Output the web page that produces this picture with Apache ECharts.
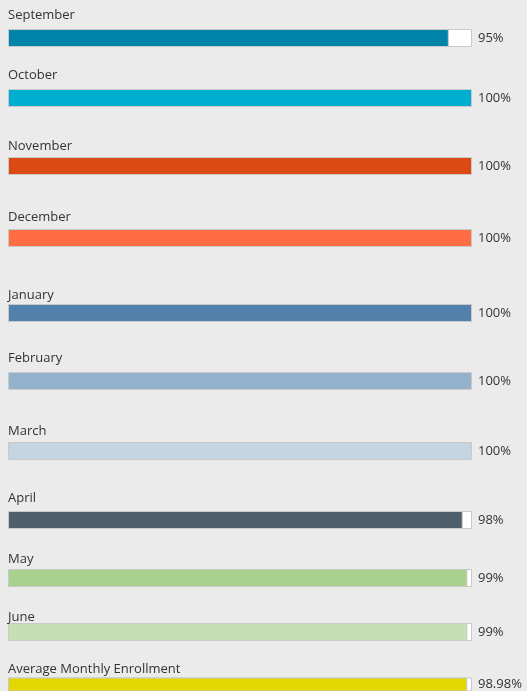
<!DOCTYPE html>
<html>
<head>
<meta charset="utf-8">
<script src="https://cdn.jsdelivr.net/npm/echarts@6/dist/echarts.min.js"></script>
<style>
  html, body { margin: 0; padding: 0; background: #ebebeb; }
  #chart { width: 527px; height: 691px; }
</style>
</head>
<body>
<div id="chart"></div>
<script>
// data
const months = ['September', 'October', 'November', 'December', 'January', 'February',
  'March', 'April', 'May', 'June', 'Average Monthly Enrollment']
const enrollment = [95, 100, 100, 100, 100, 100, 100, 98, 99, 99, 98.98]

// styling / layout
const colors = ['#0083a9', '#00aecf', '#dc4a14', '#ff6d44', '#5282ab', '#95b2cd',
  '#c5d5e2', '#4e5f6b', '#a9d18e', '#c6e0b5', '#e2d700']
const barTops = [29, 89, 157, 229, 304, 372, 442, 511, 569, 623, 678]
const labelTops = [9, 69, 140, 211, 289, 352, 425, 492, 553, 611, 663]
const barH = 18

const chart = echarts.init(document.getElementById('chart'))

const grid = [], xAxis = [], yAxis = [], series = [], title = []
months.forEach((m, i) => {
  grid.push({ left: 8, right: 55, top: barTops[i], height: barH })
  xAxis.push({ gridIndex: i, type: 'value', min: 0, max: 100, show: false })
  yAxis.push({ gridIndex: i, type: 'category', data: [m], show: false })
  title.push({
    text: m, left: 8, top: labelTops[i], padding: 0,
    textStyle: { fontFamily: 'Open Sans', fontSize: 13, fontWeight: 'normal', color: '#333' }
  })
  // white track to 100%
  series.push({
    type: 'bar', xAxisIndex: i, yAxisIndex: i, barWidth: barH, silent: true,
    itemStyle: { color: '#fff', borderColor: '#c9c9c9', borderWidth: 1 },
    label: {
      show: true, position: 'right', distance: 6,
      fontFamily: 'Open Sans', fontSize: 13, color: '#333',
      formatter: () => enrollment[i] + '%'
    },
    data: [100]
  })
  series.push({
    type: 'bar', xAxisIndex: i, yAxisIndex: i, barWidth: barH, barGap: '-100%',
    itemStyle: { color: colors[i], borderColor: '#c9c9c9', borderWidth: 1 },
    data: [enrollment[i]]
  })
})

chart.setOption({
  backgroundColor: '#ebebeb',
  animation: false,
  title, grid, xAxis, yAxis, series
})
</script>
</body>
</html>
